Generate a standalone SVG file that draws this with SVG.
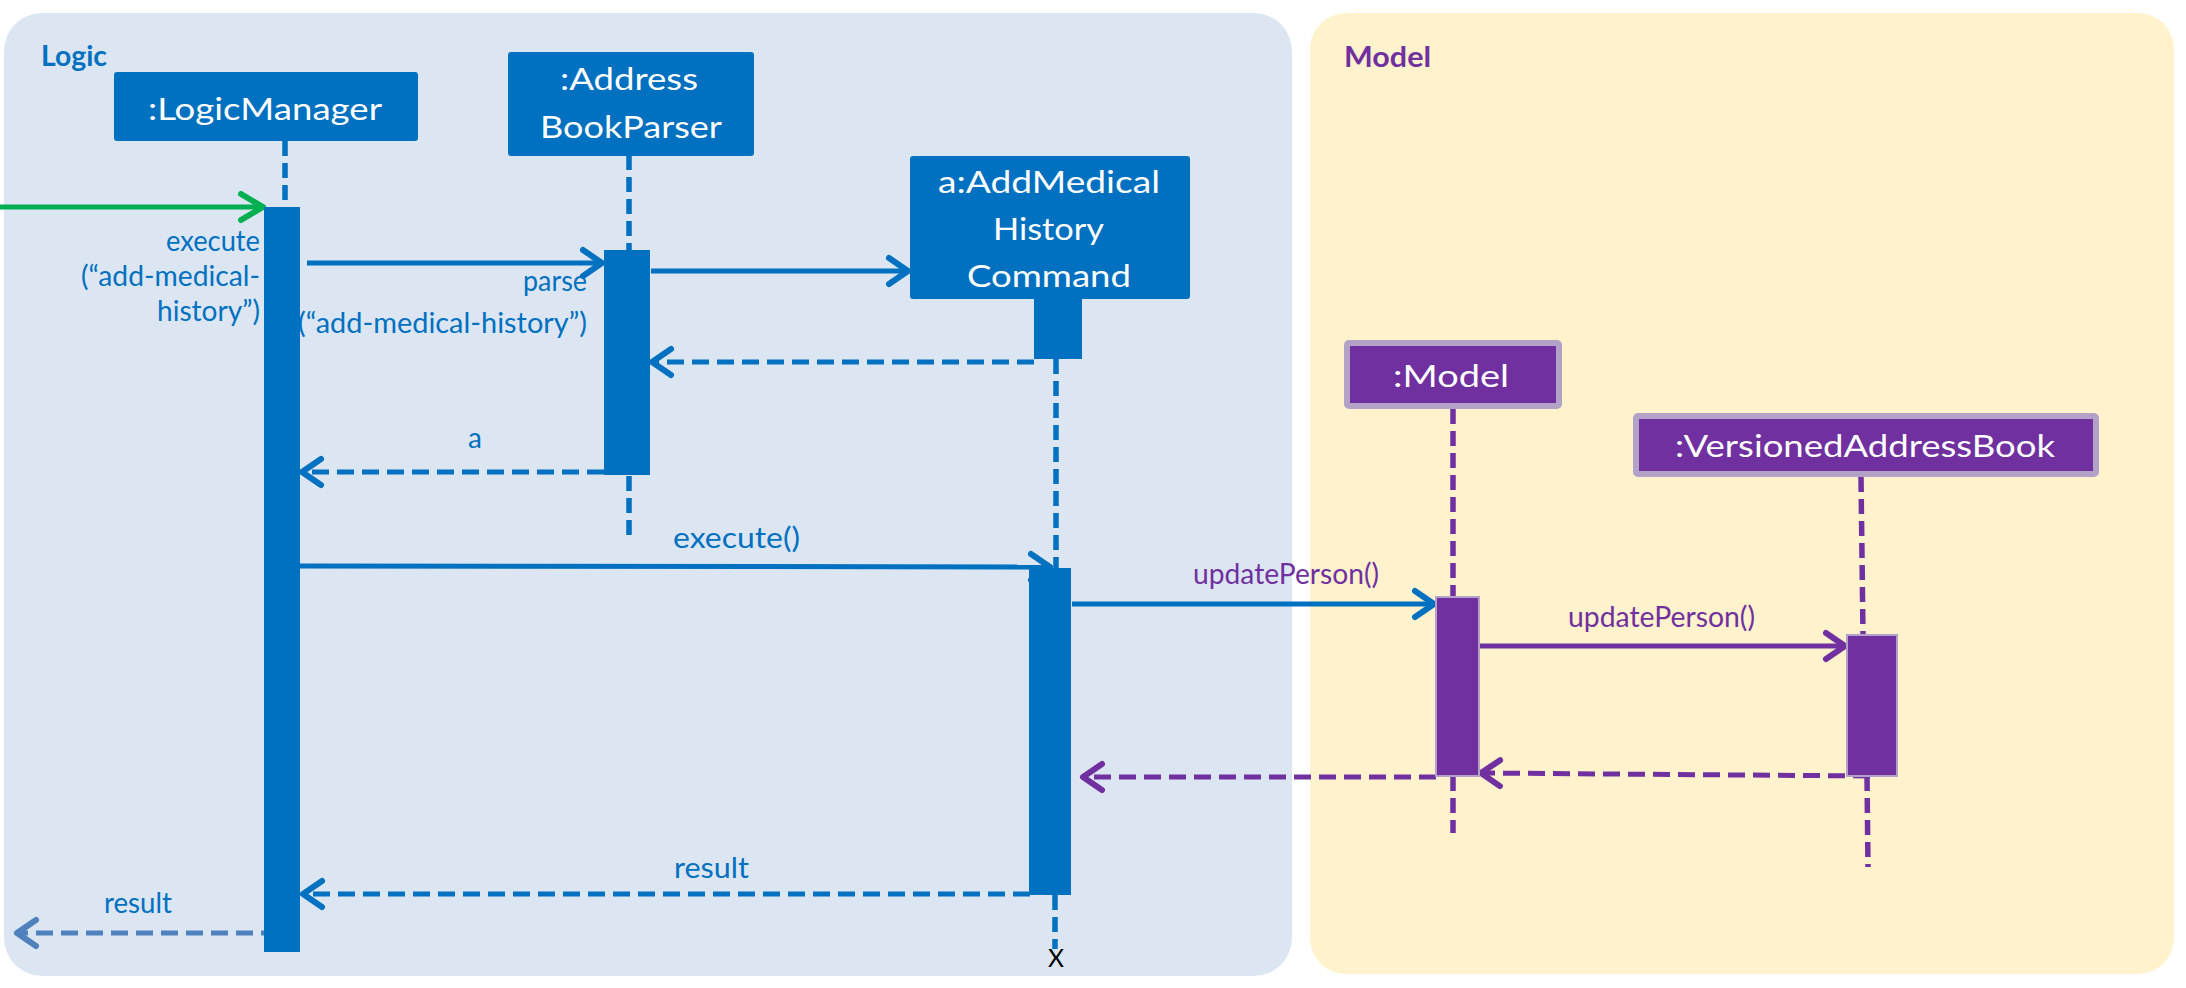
<svg xmlns="http://www.w3.org/2000/svg" width="2186" height="988" viewBox="0 0 2186 988">
  <style>
    .t { font-family: Lato, "Liberation Sans", sans-serif; }
    .boxt { font-family: Lato, "Liberation Sans", sans-serif; font-size: 31px; fill: #FFFFFF; }
    .lbl { font-family: Lato, "Liberation Sans", sans-serif; font-size: 28px; fill: #0070C0; }
    .plbl { font-family: Lato, "Liberation Sans", sans-serif; font-size: 28px; fill: #7030A0; }
    .title { font-family: Lato, "Liberation Sans", sans-serif; font-size: 29px; font-weight: bold; }
    .bbox { fill: #0070C0; }
    .pbox { fill: #7030A0; stroke: #B3A2C7; stroke-width: 6; }
    .bact { fill: #0070C0; }
    .pact { fill: #7030A0; stroke: #B3A2C7; stroke-width: 2; }
    .bll { stroke: #0070C0; stroke-width: 5.5; stroke-dasharray: 15 7; fill: none; }
    .pll { stroke: #7030A0; stroke-width: 5.5; stroke-dasharray: 15 7; fill: none; }
    .call { stroke-width: 5; fill: none; }
    .ret { stroke-width: 5; fill: none; stroke-dasharray: 17 8; }
  </style>
  <defs>
    <marker id="ah-blue" viewBox="-26 -18 30 36" refX="0" refY="0" markerWidth="30" markerHeight="36" markerUnits="userSpaceOnUse" orient="auto">
      <path d="M-19,-13 L0,0 L-19,13" fill="none" stroke="#0070C0" stroke-width="6" stroke-linecap="round" stroke-linejoin="round"/>
    </marker>
    <marker id="ah-purple" viewBox="-26 -18 30 36" refX="0" refY="0" markerWidth="30" markerHeight="36" markerUnits="userSpaceOnUse" orient="auto">
      <path d="M-19,-13 L0,0 L-19,13" fill="none" stroke="#7030A0" stroke-width="6" stroke-linecap="round" stroke-linejoin="round"/>
    </marker>
    <marker id="ah-green" viewBox="-30 -18 34 36" refX="0" refY="0" markerWidth="34" markerHeight="36" markerUnits="userSpaceOnUse" orient="auto">
      <path d="M-22,-13 L0,0 L-22,13" fill="none" stroke="#00B050" stroke-width="6" stroke-linecap="round" stroke-linejoin="round"/>
    </marker>
    <marker id="ah-steel" viewBox="-26 -18 30 36" refX="0" refY="0" markerWidth="30" markerHeight="36" markerUnits="userSpaceOnUse" orient="auto">
      <path d="M-19,-13 L0,0 L-19,13" fill="none" stroke="#4F81BD" stroke-width="6" stroke-linecap="round" stroke-linejoin="round"/>
    </marker>
  </defs>

  <rect width="2186" height="988" fill="#FFFFFF"/>

  <g id="panel-logic">
    <rect x="4" y="13" width="1288" height="963" rx="38" ry="38" fill="#DCE6F2"/>
    <text class="title" x="41" y="66" fill="#0070C0" textLength="66" lengthAdjust="spacingAndGlyphs">Logic</text>
  </g>
  <g id="panel-model">
    <rect x="1310" y="13" width="864" height="961" rx="36" ry="36" fill="#FFF2CC"/>
    <text class="title" x="1344" y="67" fill="#7030A0" textLength="87" lengthAdjust="spacingAndGlyphs">Model</text>
  </g>

  <g id="connectors">
    <line class="call" x1="0" y1="207" x2="263" y2="207" stroke="#00B050" marker-end="url(#ah-green)"/>
    <line class="call" x1="307" y1="263" x2="602" y2="263" stroke="#0070C0" marker-end="url(#ah-blue)"/>
    <line class="call" x1="651" y1="271" x2="908" y2="271" stroke="#0070C0" marker-end="url(#ah-blue)"/>
    <line class="ret" x1="1034" y1="362" x2="652" y2="362" stroke="#0070C0" marker-end="url(#ah-blue)"/>
    <line class="ret" x1="604" y1="472" x2="302" y2="472" stroke="#0070C0" marker-end="url(#ah-blue)"/>
    <line class="call" x1="300" y1="566" x2="1050" y2="567" stroke="#0070C0" marker-end="url(#ah-blue)"/>
    <line class="call" x1="1072" y1="604" x2="1434" y2="604" stroke="#0070C0" marker-end="url(#ah-blue)"/>
    <line class="call" x1="1480" y1="646" x2="1845" y2="646" stroke="#7030A0" marker-end="url(#ah-purple)"/>
    <line class="ret" x1="1870" y1="776" x2="1481" y2="773" stroke="#7030A0" marker-end="url(#ah-purple)"/>
    <line class="ret" x1="1436" y1="777" x2="1083" y2="777" stroke="#7030A0" marker-end="url(#ah-purple)"/>
    <line class="ret" x1="1030" y1="894" x2="303" y2="894" stroke="#0070C0" marker-end="url(#ah-blue)"/>
    <line class="ret" x1="278" y1="933" x2="17" y2="933" stroke="#4F81BD" marker-end="url(#ah-steel)"/>

    <text class="lbl" x="166" y="251" textLength="94" lengthAdjust="spacingAndGlyphs">execute</text>
    <text class="lbl" x="81" y="286" textLength="179" lengthAdjust="spacingAndGlyphs">(“add-medical-</text>
    <text class="lbl" x="157" y="321" textLength="103" lengthAdjust="spacingAndGlyphs">history”)</text>
    <text class="lbl" x="523" y="291" textLength="64" lengthAdjust="spacingAndGlyphs">parse</text>
    <text class="lbl" x="298" y="333" textLength="289" lengthAdjust="spacingAndGlyphs">(“add-medical-history”)</text>
    <text class="lbl" x="475" y="448" text-anchor="middle">a</text>
    <text class="lbl" x="673" y="548" textLength="127" lengthAdjust="spacingAndGlyphs">execute()</text>
    <text class="plbl" x="1193" y="584" textLength="186" lengthAdjust="spacingAndGlyphs">updatePerson()</text>
    <text class="plbl" x="1568" y="627" textLength="187" lengthAdjust="spacingAndGlyphs">updatePerson()</text>
    <text class="lbl" x="674" y="878" textLength="75" lengthAdjust="spacingAndGlyphs">result</text>
    <text class="lbl" x="104" y="913" textLength="68" lengthAdjust="spacingAndGlyphs">result</text>
  </g>

  <g id="node-logicmanager">
    <line class="bll" x1="285" y1="141" x2="285" y2="207"/>
    <rect class="bbox" x="114" y="72" width="304" height="69" rx="3" ry="3"/>
    <text class="boxt" x="148" y="120" textLength="234" lengthAdjust="spacingAndGlyphs">:LogicManager</text>
    <rect class="bact" x="264" y="207" width="36" height="745"/>
  </g>

  <g id="node-addressbookparser">
    <line class="bll" x1="629" y1="155" x2="629" y2="250"/>
    <line class="bll" x1="629" y1="476" x2="629" y2="540"/>
    <rect class="bbox" x="508" y="52" width="246" height="104" rx="3" ry="3"/>
    <text class="boxt" x="560" y="90" textLength="138" lengthAdjust="spacingAndGlyphs">:Address</text>
    <text class="boxt" x="540" y="138" textLength="182" lengthAdjust="spacingAndGlyphs">BookParser</text>
    <rect class="bact" x="604" y="250" width="46" height="225"/>
  </g>

  <g id="node-command">
    <line class="bll" x1="1056" y1="359" x2="1056" y2="568"/>
    <line class="bll" x1="1055" y1="895" x2="1055" y2="949"/>
    <rect class="bbox" x="910" y="156" width="280" height="143" rx="3" ry="3"/>
    <text class="boxt" x="938" y="193" font-size="32" textLength="222" lengthAdjust="spacingAndGlyphs">a:AddMedical</text>
    <text class="boxt" x="993" y="240" font-size="32" textLength="111" lengthAdjust="spacingAndGlyphs">History</text>
    <text class="boxt" x="967" y="287" font-size="32" textLength="164" lengthAdjust="spacingAndGlyphs">Command</text>
    <rect class="bact" x="1034" y="299" width="48" height="60"/>
    <rect class="bact" x="1029" y="568" width="42" height="327"/>
    <text class="t" x="1048" y="967" font-size="25" fill="#000000" textLength="16" lengthAdjust="spacingAndGlyphs">X</text>
  </g>

  <g id="node-model">
    <line class="pll" x1="1453" y1="409" x2="1453" y2="597"/>
    <line class="pll" x1="1453" y1="776" x2="1453" y2="833"/>
    <rect class="pbox" x="1347" y="343" width="212" height="63" rx="2" ry="2"/>
    <text class="boxt" x="1393" y="387" font-size="32" textLength="116" lengthAdjust="spacingAndGlyphs">:Model</text>
    <rect class="pact" x="1436" y="597" width="43" height="179"/>
  </g>

  <g id="node-versionedaddressbook">
    <line class="pll" x1="1861" y1="477" x2="1863" y2="635"/>
    <line class="pll" x1="1867" y1="776" x2="1868" y2="867"/>
    <rect class="pbox" x="1636" y="416" width="460" height="58" rx="2" ry="2"/>
    <text class="boxt" x="1675" y="457" font-size="33" textLength="380" lengthAdjust="spacingAndGlyphs">:VersionedAddressBook</text>
    <rect class="pact" x="1847" y="635" width="50" height="141"/>
  </g>
</svg>
